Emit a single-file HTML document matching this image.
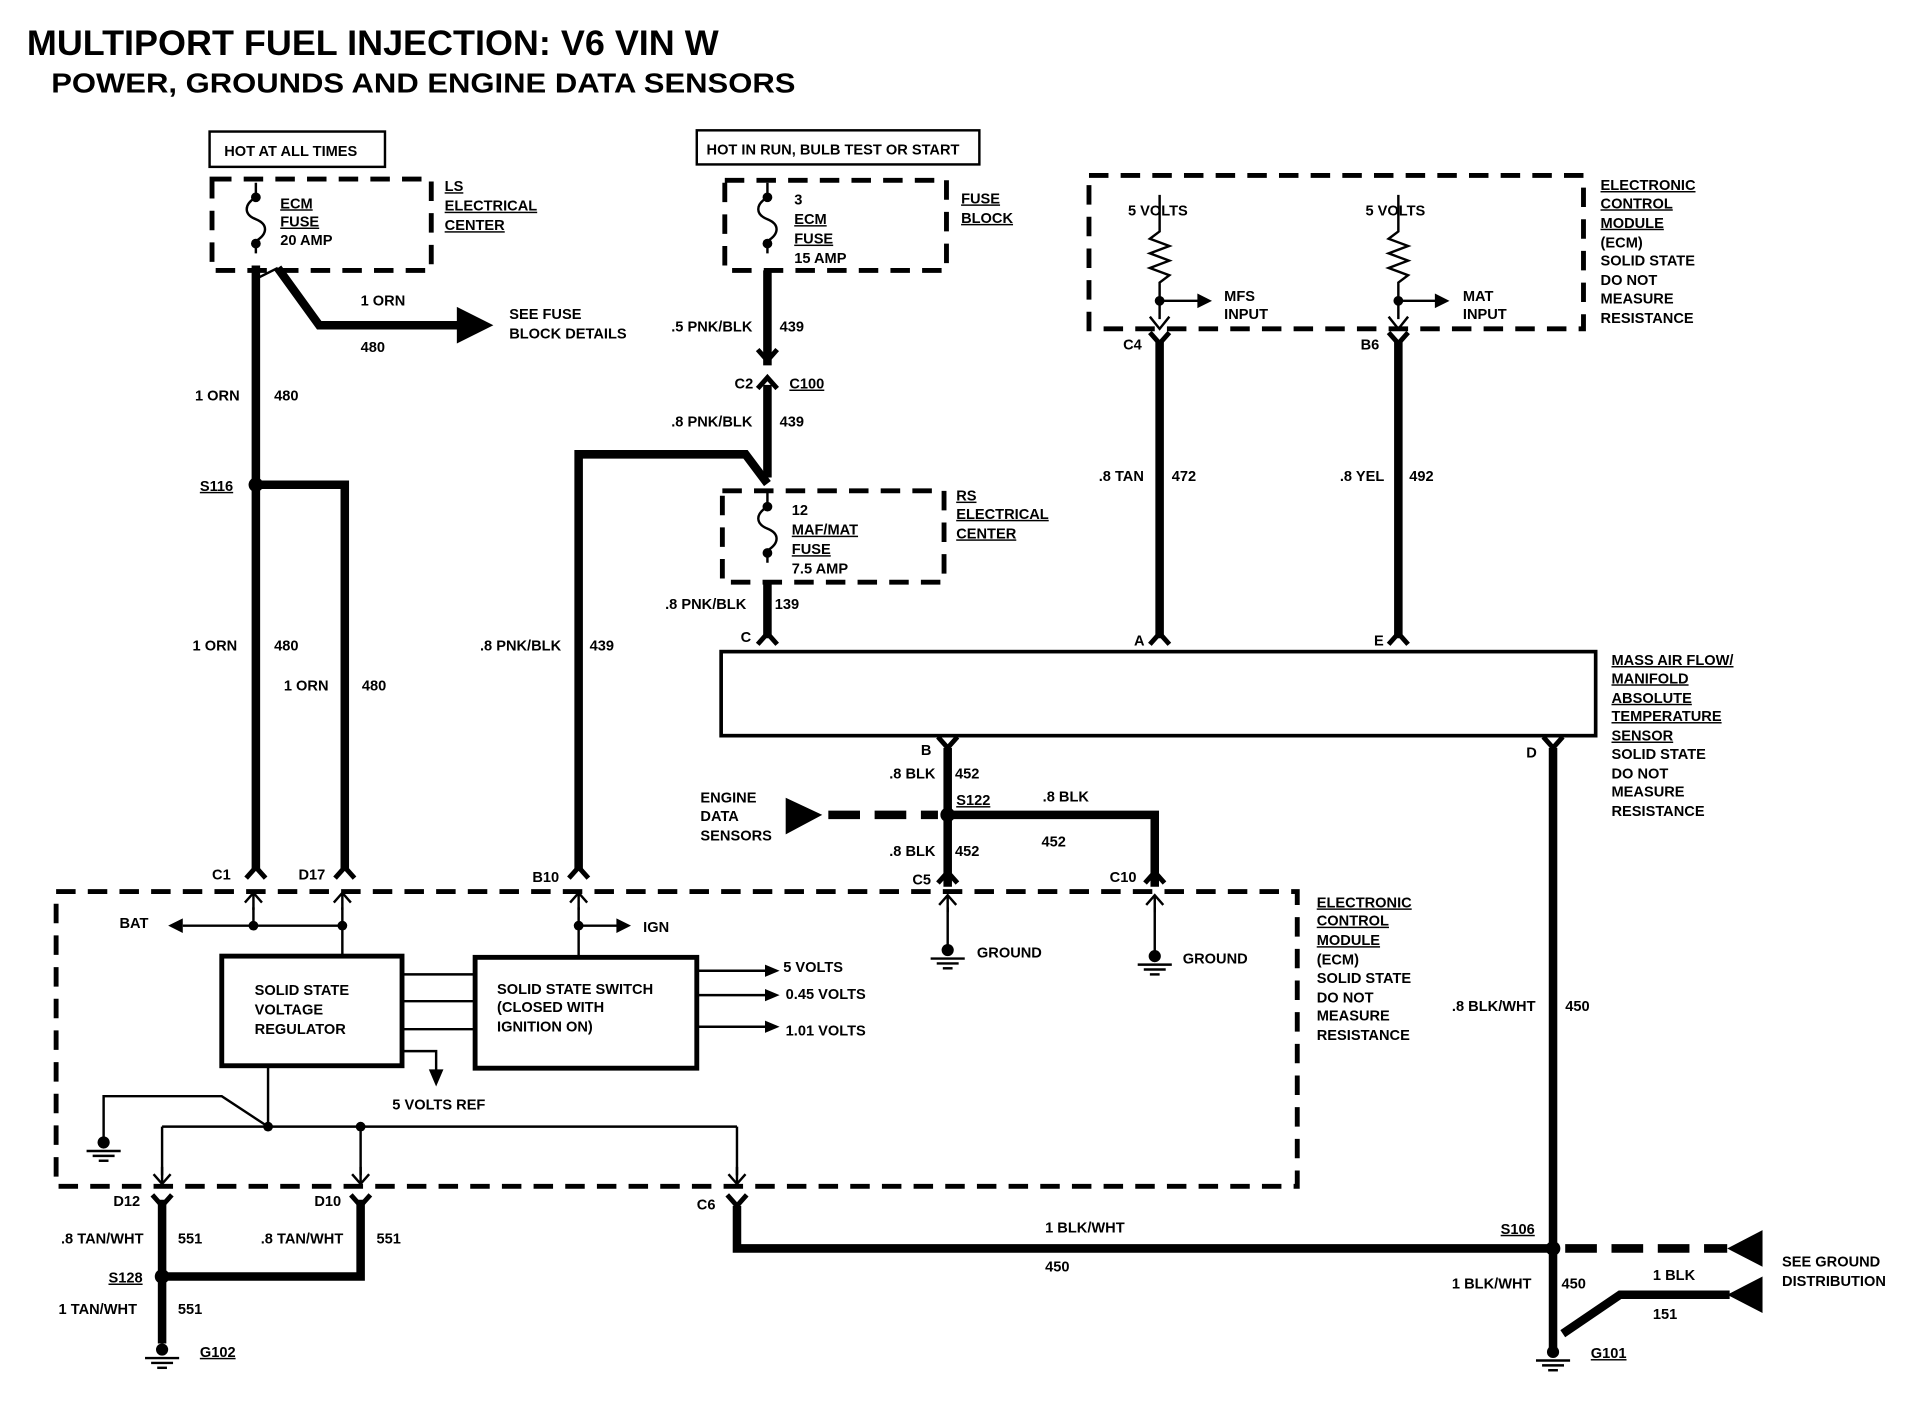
<!DOCTYPE html>
<html><head><meta charset="utf-8"><style>
html,body{margin:0;padding:0;background:#fff;}
svg{display:block;}
text{font-family:"Liberation Sans",sans-serif;font-weight:bold;font-size:12px;fill:#000;}
.t1{font-size:29px;}
.t2{font-size:23px;}
.u{text-decoration:underline;}
</style></head><body>
<svg width="1910" height="1408" viewBox="0 0 1568 1156" xmlns="http://www.w3.org/2000/svg">
<defs>
<path id="yd" d="M-8,9 L0,0 L8,9" fill="none" stroke="#000" stroke-width="4"/>
<path id="yu" d="M-8,-9 L0,0 L8,-9" fill="none" stroke="#000" stroke-width="4"/>
<path id="au" d="M-7,8 L0,0 L7,8 M0,0 L0,14" fill="none" stroke="#000" stroke-width="2"/>
<path id="ad" d="M-7,-8 L0,0 L7,-8 M0,0 L0,-14" fill="none" stroke="#000" stroke-width="2"/>
<g id="gnd"><circle cx="0" cy="0" r="5"/><line x1="-14" y1="7" x2="14" y2="7" stroke="#000" stroke-width="2"/><line x1="-9" y1="11" x2="9" y2="11" stroke="#000" stroke-width="2"/><line x1="-4" y1="15" x2="4" y2="15" stroke="#000" stroke-width="2"/></g>
<path id="fuse" d="M0,0 L0,10 M0,12 C-10,18 -10,26 0,30 C10,34 10,42 0,48 L0,58" fill="none" stroke="#000" stroke-width="2"/>
</defs>
<rect width="1568" height="1156" fill="#fff"/>
<text x="22" y="45" class="t1" textLength="568" lengthAdjust="spacingAndGlyphs">MULTIPORT FUEL INJECTION: V6 VIN W</text>
<text x="42" y="76" class="t2" textLength="611" lengthAdjust="spacingAndGlyphs">POWER, GROUNDS AND ENGINE DATA SENSORS</text>

<g fill="none" stroke="#000">
<rect x="172" y="108" width="144" height="29" stroke-width="2"/>
<rect x="572" y="107" width="232" height="28" stroke-width="2"/>
<rect x="174" y="147" width="180" height="75" stroke-width="4" stroke-dasharray="16,10"/>
<rect x="595" y="148" width="182" height="74" stroke-width="4" stroke-dasharray="16,10"/>
<rect x="593" y="403" width="182" height="75" stroke-width="4" stroke-dasharray="16,10"/>
<rect x="894" y="144" width="406" height="126" stroke-width="4" stroke-dasharray="16,10"/>
<rect x="46" y="732" width="1019" height="242" stroke-width="4" stroke-dasharray="16,10"/>
<rect x="592" y="535" width="718" height="69" stroke-width="3"/>
<rect x="182" y="785" width="148" height="90" stroke-width="4"/>
<rect x="390" y="786" width="182" height="91" stroke-width="4"/>

<g stroke-width="7" stroke-linejoin="miter">
<path d="M210,218 L210,714"/>
<path d="M228,220 L262,267 L378,267"/>
<path d="M210,398 L283,398 L283,714"/>
<path d="M630,222 L630,300"/>
<path d="M630,316 L630,392"/>
<path d="M475,714 L475,373 L612,373 L630,397"/>
<path d="M630,478 L630,524"/>
<path d="M952,280 L952,524"/>
<path d="M1148,280 L1148,524"/>
<path d="M778,614 L778,728"/>
<path d="M778,669 L948,669 L948,728"/>
<path d="M1275,614 L1275,1108"/>
<path d="M605,990 L605,1025 L1275,1025"/>
<path d="M1283,1095 L1330,1063 L1420,1063"/>
<path d="M133,985 L133,1103"/>
<path d="M133,1048 L296,1048 L296,985"/>
<path d="M680,669 L770,669" stroke-dasharray="26,12"/>
<path d="M1285,1025 L1418,1025" stroke-dasharray="26,12"/>
</g>
<g stroke-width="2">
<path d="M208,230 L228,220"/>
<path d="M150,760 L283,760"/>
<path d="M208,745 L208,760 M281,745 L281,785"/>
<path d="M475,745 L475,786 M475,760 L510,760"/>
<path d="M330,800 L390,800 M330,822 L390,822 M330,845 L390,845"/>
<path d="M330,863 L358,863 L358,880"/>
<path d="M572,797 L630,797 M572,817 L630,817 M572,843 L630,843"/>
<path d="M85,938 L85,900 L182,900 L220,925 M220,875 L220,925"/>
<path d="M133,925 L605,925 M133,925 L133,965 M296,925 L296,965 M605,925 L605,965"/>
<path d="M778,745 L778,778 M948,745 L948,782"/>
<path d="M952,160 L952,190 L944,196 L960,202 L944,208 L960,214 L944,220 L960,226 L952,232 L952,262 M952,247 L985,247"/>
<path d="M1148,160 L1148,190 L1140,196 L1156,202 L1140,208 L1156,214 L1140,220 L1156,226 L1148,232 L1148,262 M1148,247 L1180,247"/>
<path d="M944,260 L952,270 L960,260 M1140,260 L1148,270 L1156,260"/>
</g>
</g>
<use href="#fuse" x="210" y="150"/>
<use href="#fuse" x="630" y="150"/>
<use href="#fuse" x="630" y="404"/>
<circle cx="210" cy="162" r="4"/><circle cx="210" cy="200" r="4"/>
<circle cx="630" cy="162" r="4"/><circle cx="630" cy="200" r="4"/>
<circle cx="630" cy="416" r="4"/><circle cx="630" cy="454" r="4"/>
<polygon points="375,252 375,282 405,267"/>
<polygon points="645,655 645,685 675,669"/>
<polygon points="1447,1010 1447,1040 1418,1025"/>
<polygon points="1447,1048 1447,1078 1418,1063"/>
<polygon points="138,760 150,754 150,766"/>
<polygon points="518,760 506,754 506,766"/>
<polygon points="358,892 352,878 364,878"/>
<polygon points="640,797 628,792 628,802"/><polygon points="640,817 628,812 628,822"/><polygon points="640,843 628,838 628,848"/>
<polygon points="995,247 983,241 983,253"/><polygon points="1190,247 1178,241 1178,253"/>
<circle cx="210" cy="398" r="6"/><circle cx="778" cy="669" r="6"/><circle cx="1275" cy="1025" r="6"/><circle cx="133" cy="1048" r="6"/>
<circle cx="208" cy="760" r="4"/><circle cx="281" cy="760" r="4"/><circle cx="475" cy="760" r="4"/><circle cx="220" cy="925" r="4"/><circle cx="296" cy="925" r="4"/>
<circle cx="952" cy="247" r="4"/><circle cx="1148" cy="247" r="4"/>
<use href="#yd" x="210" y="712"/><use href="#yd" x="283" y="712"/><use href="#yd" x="475" y="712"/>
<use href="#yd" x="778" y="716"/><use href="#yd" x="948" y="716"/>
<use href="#au" x="208" y="733"/><use href="#au" x="281" y="733"/><use href="#au" x="475" y="733"/><use href="#au" x="778" y="735"/><use href="#au" x="948" y="735"/>
<use href="#yd" x="630" y="520"/><use href="#yd" x="952" y="520"/><use href="#yd" x="1148" y="520"/>
<use href="#yu" x="630" y="296"/><use href="#yd" x="630" y="310"/>
<use href="#yu" x="952" y="282"/><use href="#yu" x="1148" y="282"/>
<use href="#yu" x="778" y="614"/><use href="#yu" x="1275" y="614"/>
<use href="#ad" x="133" y="972"/><use href="#ad" x="296" y="972"/><use href="#ad" x="605" y="972"/>
<use href="#yu" x="133" y="990"/><use href="#yu" x="296" y="990"/><use href="#yu" x="605" y="990"/>
<use href="#gnd" x="133" y="1108"/><use href="#gnd" x="1275" y="1110"/><use href="#gnd" x="778" y="780"/><use href="#gnd" x="948" y="785"/><use href="#gnd" x="85" y="938"/>

<text x="184" y="128">HOT AT ALL TIMES</text>
<text x="580" y="127">HOT IN RUN, BULB TEST OR START</text>
<text x="230" y="171" class="u">ECM</text><text x="230" y="186" class="u">FUSE</text><text x="230" y="201">20 AMP</text>
<text x="365" y="157" class="u">LS</text><text x="365" y="173" class="u">ELECTRICAL</text><text x="365" y="189" class="u">CENTER</text>
<text x="296" y="251">1 ORN</text><text x="296" y="289">480</text>
<text x="418" y="262">SEE FUSE</text><text x="418" y="278">BLOCK DETAILS</text>
<text x="160" y="329">1 ORN</text><text x="225" y="329">480</text>
<text x="164" y="403" class="u">S116</text>
<text x="158" y="534">1 ORN</text><text x="225" y="534">480</text>
<text x="233" y="567">1 ORN</text><text x="297" y="567">480</text>
<text x="652" y="168">3</text><text x="652" y="184" class="u">ECM</text><text x="652" y="200" class="u">FUSE</text><text x="652" y="216">15 AMP</text>
<text x="789" y="167" class="u">FUSE</text><text x="789" y="183" class="u">BLOCK</text>
<text x="551" y="272">.5 PNK/BLK</text><text x="640" y="272">439</text>
<text x="603" y="319">C2</text><text x="648" y="319" class="u">C100</text>
<text x="551" y="350">.8 PNK/BLK</text><text x="640" y="350">439</text>
<text x="650" y="423">12</text><text x="650" y="439" class="u">MAF/MAT</text><text x="650" y="455" class="u">FUSE</text><text x="650" y="471">7.5 AMP</text>
<text x="785" y="411" class="u">RS</text><text x="785" y="426" class="u">ELECTRICAL</text><text x="785" y="442" class="u">CENTER</text>
<text x="546" y="500">.8 PNK/BLK</text><text x="636" y="500">139</text>
<text x="608" y="527">C</text>
<text x="394" y="534">.8 PNK/BLK</text><text x="484" y="534">439</text>
<text x="926" y="177">5 VOLTS</text><text x="1121" y="177">5 VOLTS</text>
<text x="1005" y="247">MFS</text><text x="1005" y="262">INPUT</text>
<text x="1201" y="247">MAT</text><text x="1201" y="262">INPUT</text>
<text x="922" y="287">C4</text><text x="1117" y="287">B6</text>
<text x="1314" y="156" class="u">ELECTRONIC</text><text x="1314" y="171" class="u">CONTROL</text><text x="1314" y="187" class="u">MODULE</text><text x="1314" y="203">(ECM)</text><text x="1314" y="218">SOLID STATE</text><text x="1314" y="234">DO NOT</text><text x="1314" y="249">MEASURE</text><text x="1314" y="265">RESISTANCE</text>
<text x="902" y="395">.8 TAN</text><text x="962" y="395">472</text>
<text x="1100" y="395">.8 YEL</text><text x="1157" y="395">492</text>
<text x="931" y="530">A</text><text x="1128" y="530">E</text>
<text x="1323" y="546" class="u">MASS AIR FLOW/</text><text x="1323" y="561" class="u">MANIFOLD</text><text x="1323" y="577" class="u">ABSOLUTE</text><text x="1323" y="592" class="u">TEMPERATURE</text><text x="1323" y="608" class="u">SENSOR</text><text x="1323" y="623">SOLID STATE</text><text x="1323" y="639">DO NOT</text><text x="1323" y="654">MEASURE</text><text x="1323" y="670">RESISTANCE</text>
<text x="756" y="620">B</text><text x="1253" y="622">D</text>
<text x="730" y="639">.8 BLK</text><text x="784" y="639">452</text>
<text x="575" y="659">ENGINE</text><text x="575" y="674">DATA</text><text x="575" y="690">SENSORS</text>
<text x="785" y="661" class="u">S122</text><text x="856" y="658">.8 BLK</text>
<text x="730" y="703">.8 BLK</text><text x="784" y="703">452</text><text x="855" y="695">452</text>
<text x="174" y="722">C1</text><text x="245" y="722">D17</text><text x="437" y="724">B10</text><text x="749" y="726">C5</text><text x="911" y="724">C10</text>
<text x="98" y="762">BAT</text><text x="528" y="765">IGN</text>
<text x="802" y="786">GROUND</text><text x="971" y="791">GROUND</text>
<text x="1081" y="745" class="u">ELECTRONIC</text><text x="1081" y="760" class="u">CONTROL</text><text x="1081" y="776" class="u">MODULE</text><text x="1081" y="792">(ECM)</text><text x="1081" y="807">SOLID STATE</text><text x="1081" y="823">DO NOT</text><text x="1081" y="838">MEASURE</text><text x="1081" y="854">RESISTANCE</text>
<text x="209" y="817">SOLID STATE</text><text x="209" y="833">VOLTAGE</text><text x="209" y="849">REGULATOR</text>
<text x="408" y="816">SOLID STATE SWITCH</text><text x="408" y="831">(CLOSED WITH</text><text x="408" y="847">IGNITION ON)</text>
<text x="643" y="798">5 VOLTS</text><text x="645" y="820">0.45 VOLTS</text><text x="645" y="850">1.01 VOLTS</text>
<text x="322" y="911">5 VOLTS REF</text>
<text x="1192" y="830">.8 BLK/WHT</text><text x="1285" y="830">450</text>
<text x="93" y="990">D12</text><text x="258" y="990">D10</text><text x="572" y="993">C6</text>
<text x="50" y="1021">.8 TAN/WHT</text><text x="146" y="1021">551</text>
<text x="214" y="1021">.8 TAN/WHT</text><text x="309" y="1021">551</text>
<text x="89" y="1053" class="u">S128</text>
<text x="48" y="1079">1 TAN/WHT</text><text x="146" y="1079">551</text>
<text x="164" y="1114" class="u">G102</text>
<text x="858" y="1012">1 BLK/WHT</text><text x="858" y="1044">450</text>
<text x="1232" y="1013" class="u">S106</text>
<text x="1192" y="1058">1 BLK/WHT</text><text x="1282" y="1058">450</text>
<text x="1357" y="1051">1 BLK</text><text x="1357" y="1083">151</text>
<text x="1463" y="1040">SEE GROUND</text><text x="1463" y="1056">DISTRIBUTION</text>
<text x="1306" y="1115" class="u">G101</text>
</svg>
</body></html>
